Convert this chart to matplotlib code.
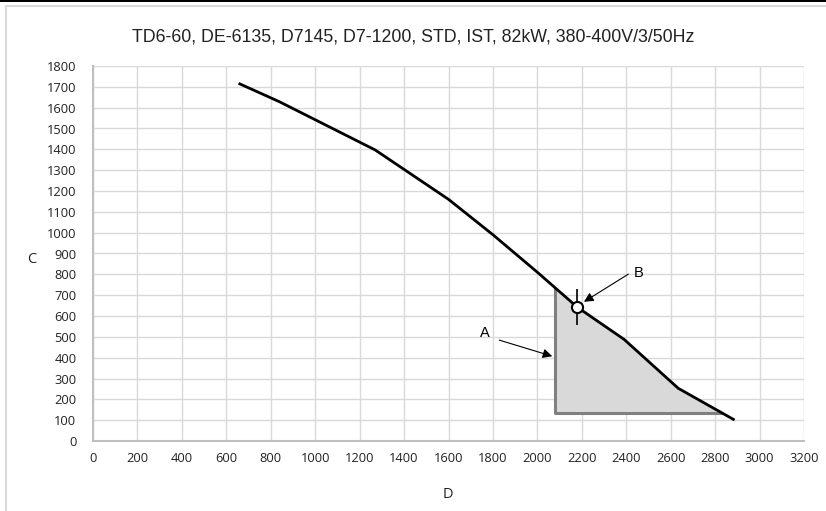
import matplotlib
matplotlib.use("Agg")
import matplotlib.pyplot as plt
from matplotlib.patches import Polygon, Rectangle
from matplotlib.lines import Line2D
import numpy as np

# Data
curve_x = [661, 840, 1270, 1600, 1800, 2000, 2180, 2390, 2634, 2882]
curve_y = [1714, 1628, 1397, 1160, 990, 810, 642, 488, 253, 104]
area_left_x = 2079
area_bottom_y = 133
point_b = (2179, 642)
title = "TD6-60, DE-6135, D7145, D7-1200, STD, IST, 82kW, 380-400V/3/50Hz"
x_ticks = list(range(0, 3201, 200))
y_ticks = list(range(0, 1801, 100))

W, H = 826, 511
fig = plt.figure(figsize=(W / 100, H / 100), dpi=100)
ax = fig.add_axes([93 / W, 1 - 441 / H, (804 - 93) / W, (441 - 66) / H])

ax.set_xlim(0, 3200)
ax.set_ylim(0, 1800)
ax.set_xticks(x_ticks)
ax.set_yticks(y_ticks)
tick_font = dict(family=["Open Sans", "DejaVu Sans"], size=9.3)
ax.set_xticklabels([str(v) for v in x_ticks], **tick_font)
ax.set_yticklabels([str(v) for v in y_ticks], **tick_font)
ax.tick_params(length=0, pad=8, colors="#222222")
ax.tick_params(axis="y", pad=12)
ax.grid(True, color="#d9d9d9", linewidth=1.0)
ax.set_axisbelow(True)
for s in ["top", "right"]:
    ax.spines[s].set_visible(False)
for s in ["left", "bottom"]:
    ax.spines[s].set_color("#bfbfbf")
    ax.spines[s].set_linewidth(1.5)

# shaded area: polygon following the curve
cx = np.array(curve_x, dtype=float)
cy = np.array(curve_y, dtype=float)
top_y = np.interp(area_left_x, cx, cy)
end_x = np.interp(area_bottom_y, cy[::-1], cx[::-1])
mask = (cx > area_left_x) & (cx < end_x)
poly_pts = [(area_left_x, area_bottom_y), (area_left_x, top_y)]
poly_pts += list(zip(cx[mask], cy[mask]))
poly_pts += [(end_x, area_bottom_y)]
ax.add_patch(Polygon(poly_pts, closed=True, facecolor="#d9d9d9", edgecolor="none", zorder=2))
ax.plot([area_left_x, area_left_x, end_x], [top_y, area_bottom_y, area_bottom_y],
        color="#808080", linewidth=2.2, zorder=3, solid_capstyle="butt")

ax.plot(curve_x, curve_y, color="black", linewidth=2.0, zorder=4)

# point B
ax.plot([point_b[0]], [point_b[1]], marker="|", markersize=26, color="black",
        markeredgewidth=1.2, zorder=5)
ax.plot([point_b[0]], [point_b[1]], marker="o", markersize=8, markerfacecolor="white",
        markeredgecolor="black", markeredgewidth=1.5, zorder=6)

lab_font = dict(family=["Liberation Sans", "DejaVu Sans"], size=10.5)
ax.annotate("", xy=(area_left_x, 403), xytext=(1817, 488),
            arrowprops=dict(arrowstyle="-|>", color="black", lw=0.8, mutation_scale=14), zorder=7)
ax.text(1764, 518, "A", ha="center", va="center", **lab_font)
ax.annotate("", xy=(2199, 661), xytext=(2420, 808),
            arrowprops=dict(arrowstyle="-|>", color="black", lw=0.8, mutation_scale=14), zorder=7)
ax.text(2457, 808, "B", ha="center", va="center", **lab_font)

fig.text(413 / W, 1 - 37 / H, title, ha="center", va="center",
         family=["Liberation Sans", "DejaVu Sans"], size=12.8, color="#222222")
fig.text(32 / W, 1 - 259 / H, "C", ha="center", va="center",
         family=["Open Sans", "DejaVu Sans"], size=10.5, color="#222222")
fig.text(448 / W, 1 - 494 / H, "D", ha="center", va="center",
         family=["Open Sans", "DejaVu Sans"], size=10.5, color="#222222")

# frame decorations
fig.patches.append(Rectangle((0, 1 - 2.5 / H), 1, 2.5 / H, transform=fig.transFigure,
                             facecolor="black", edgecolor="none"))
fig.add_artist(Line2D([5.5 / W, 1], [1 - 6.5 / H, 1 - 6.5 / H], transform=fig.transFigure,
                      color="#d9d9d9", linewidth=1.5))
fig.add_artist(Line2D([5.5 / W, 5.5 / W], [0, 1 - 6.5 / H], transform=fig.transFigure,
                      color="#d9d9d9", linewidth=1.5))

fig.savefig("out.png", dpi=100)
